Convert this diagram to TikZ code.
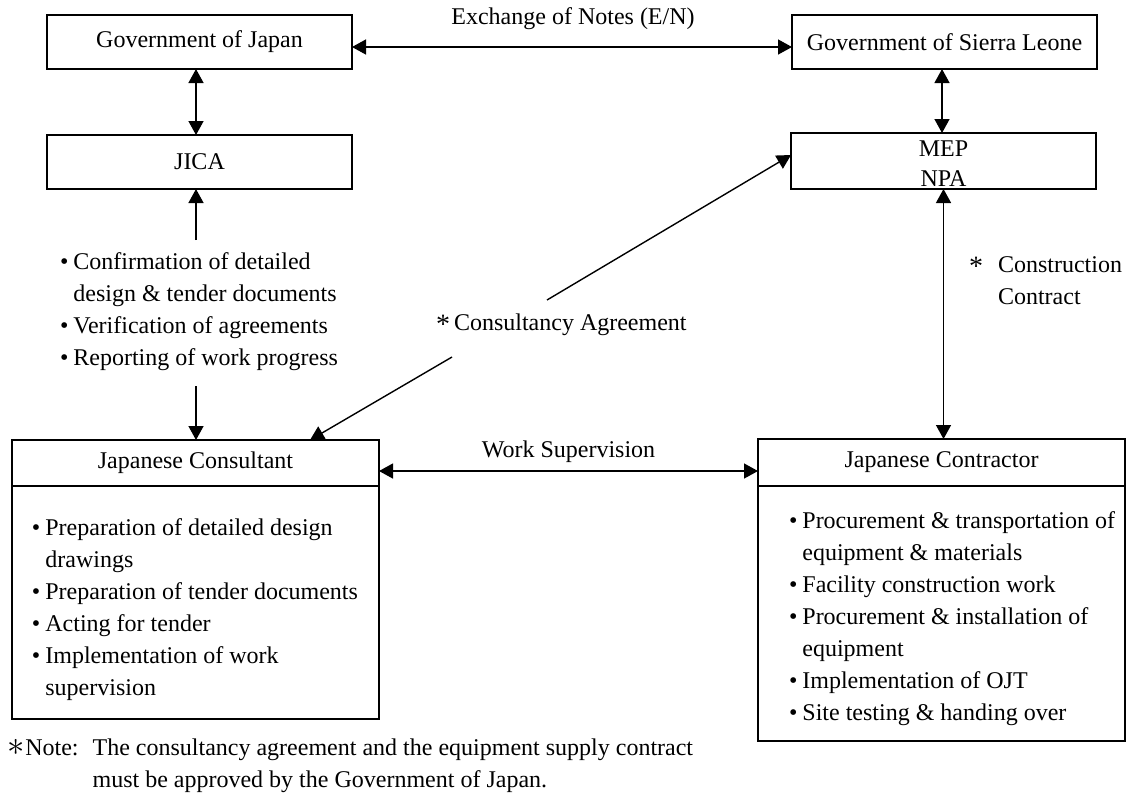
\documentclass[tikz,border=0pt]{standalone}
\usepackage{fontspec}
\setmainfont{Liberation Serif}
\usetikzlibrary{arrows.meta}
\newcommand{\astmark}{\raisebox{-1.6pt}{\fontsize{14}{14}\selectfont *}}
\begin{document}
\begin{tikzpicture}[x=0.5pt,y=-0.5pt,
  every node/.style={font=\fontsize{12}{16}\selectfont, inner sep=0pt, outer sep=0pt},
  topbox/.style={draw, line width=0.65pt, minimum width=152.5pt, minimum height=27pt, align=center},
  lowbox/.style={draw, line width=1pt, minimum width=183.5pt},
  conn/.style={line width=0.7pt},
  tip/.style={conn, -{Triangle[length=7pt,width=7.5pt]}},
  dtip/.style={conn, {Triangle[length=7pt,width=7.5pt]}-{Triangle[length=7pt,width=7.5pt]}},
  lbl/.style={anchor=base},
  listtext/.style={anchor=base west}
]
\useasboundingbox (0,0) rectangle (1127,800);

% top boxes
\node[topbox] (gj) at (199.5,42) {Government of Japan};
\node[topbox] (jica) at (199.5,162) {JICA};
\node[topbox] (gsl) at (944.5,42) {Government of Sierra Leone};
\node[topbox, minimum height=28pt] (mep) at (943.5,161) {};
\node[align=center, font=\fontsize{12}{15}\selectfont] (mept) at (943.5,163.5) {MEP\\NPA};

% lower boxes
\node[lowbox, minimum height=23pt] (consH) at (195.5,463) {Japanese Consultant};
\node[lowbox, minimum height=116.5pt, anchor=north] (consB) at (consH.south) {};
\node[lowbox, minimum height=23.5pt] (conH) at (941.5,462.5) {Japanese Contractor};
\node[lowbox, minimum height=127.5pt, anchor=north] (conB) at (conH.south) {};

% lists
\node[listtext] (jl) at (60,269) {\begin{tabular}[t]{@{}l@{\hspace{2.5pt}}l@{}}
\textbullet & Confirmation of detailed\\
 & design \& tender documents\\
\textbullet & Verification of agreements\\
\textbullet & Reporting of work progress
\end{tabular}};

\node[listtext] (cl) at (32,535) {\begin{tabular}[t]{@{}l@{\hspace{2.5pt}}l@{}}
\textbullet & Preparation of detailed design\\
 & drawings\\
\textbullet & Preparation of tender documents\\
\textbullet & Acting for tender\\
\textbullet & Implementation of work\\
 & supervision
\end{tabular}};

\node[listtext] (tl) at (789,528) {\begin{tabular}[t]{@{}l@{\hspace{2.5pt}}l@{}}
\textbullet & Procurement \& transportation of\\
 & equipment \& materials\\
\textbullet & Facility construction work\\
\textbullet & Procurement \& installation of\\
 & equipment\\
\textbullet & Implementation of OJT\\
\textbullet & Site testing \& handing over
\end{tabular}};

% labels
\node[lbl] (en) at (573,24) {Exchange of Notes (E/N)};
\node[lbl] (ws) at (568.5,457) {Work Supervision};
\node[listtext] (ca) at (436,330) {\astmark\hspace{2pt}Consultancy Agreement};
\node[listtext] (cc) at (969,272) {\begin{tabular}[t]{@{}l@{\hspace{7.5pt}}l@{}}
\astmark & Construction\\
 & Contract
\end{tabular}};
\node[listtext] (note) at (8,755) {\begin{tabular}[t]{@{}l@{\hspace{7pt}}l@{}}
{\fontsize{16}{16}\selectfont$\ast$}Note: & The consultancy agreement and the equipment supply contract\\
 & must be approved by the Government of Japan.
\end{tabular}};

% connectors
\draw[dtip] ([yshift=-2.5pt]gj.east) -- ([yshift=-2.5pt]gj.east -| gsl.west);
\draw[dtip] ([xshift=-1.75pt]gj.south) -- ([xshift=-1.75pt]gj.south |- jica.north);
\draw[dtip] ([xshift=-1.25pt]gsl.south) -- ([xshift=-1.25pt]gsl.south |- mep.north);
\draw[dtip] (mep.south) -- (mep.south |- conH.north);
\draw[dtip] ([yshift=-4pt]consH.east) -- ([yshift=-4pt]consH.east -| conH.west);

\coordinate (ju) at (196,240);
\coordinate (jd) at (196,386);
\draw[tip] (ju) -- (ju |- jica.south);
\draw[tip] (jd) -- (jd |- consH.north);

\coordinate (ca1) at (547,300);
\coordinate (ca2) at (452,357);
\coordinate (ca3) at (310,440);
\draw[tip] (ca1) -- ([yshift=3pt]mep.west);
\draw[tip] (ca2) -- (ca3 |- consH.north);
\end{tikzpicture}
\end{document}
